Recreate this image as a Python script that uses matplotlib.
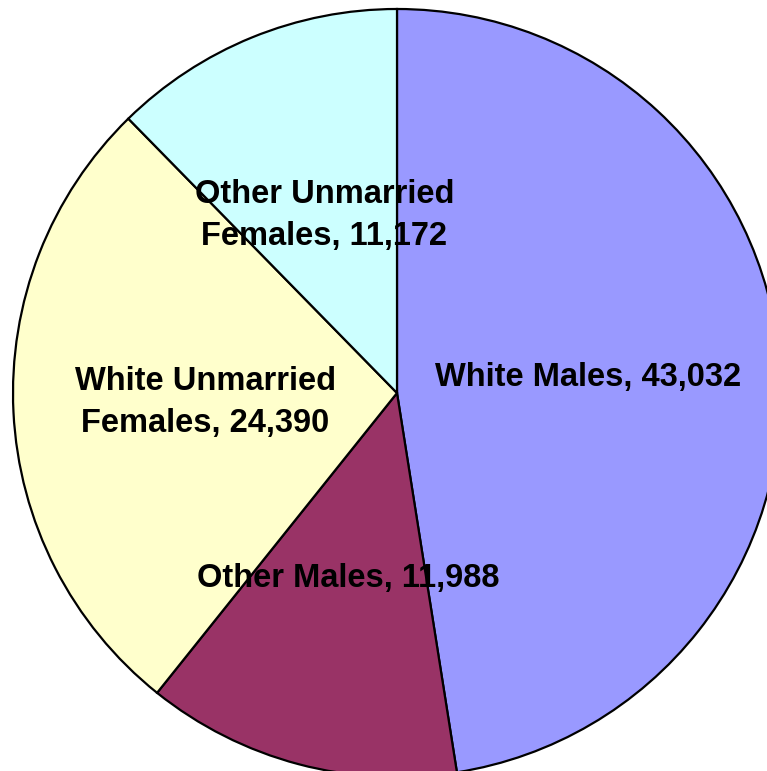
import matplotlib.pyplot as plt

labels = ["White Males, 43,032", "Other Males, 11,988",
          "White Unmarried\nFemales, 24,390", "Other Unmarried\nFemales, 11,172"]
values = [43032, 11988, 24390, 11172]
colors = ["#9999FF", "#993366", "#FFFFCC", "#CCFFFF"]

fig = plt.figure(figsize=(7.67, 7.71), dpi=100)
ax = fig.add_axes([0, 0, 1, 1])

wedges, texts = ax.pie(values, labels=labels, colors=colors, startangle=90,
                       counterclock=False, labeldistance=0.5,
                       wedgeprops=dict(edgecolor="black", linewidth=1.6),
                       textprops=dict(fontfamily="Liberation Sans", fontweight="bold",
                                      fontsize=23.5, color="black"))
for t in texts:
    t.set_horizontalalignment("center")
    t.set_verticalalignment("center")
    t.set_multialignment("center")
    t.set_linespacing(1.45)

# pie centre sits at pixel (397, 393), radius ~384 px; right and bottom are cropped
r = 384.0
ax.set_xlim(-397 / r, (767 - 397) / r)
ax.set_ylim(-(771 - 393) / r, 393 / r)
ax.set_aspect("equal")
ax.axis("off")

fig.savefig("out.png", dpi=100)
